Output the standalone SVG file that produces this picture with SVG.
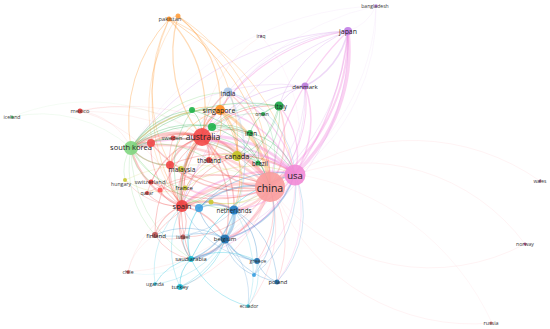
<svg xmlns="http://www.w3.org/2000/svg" width="550" height="329" viewBox="0 0 550 329">
<style>
text{font-family:"Open Sans","Liberation Sans",sans-serif;text-anchor:middle;dominant-baseline:central;fill:#222}
.sm{fill:#3a3a3a}
#edges path{fill:none;stroke-linecap:round}
.er{stroke:#f04848;stroke-opacity:.3}
.ech{stroke:#ff7f8a;stroke-opacity:.32}
.ep{stroke:#f07ad8;stroke-opacity:.34}
.epu{stroke:#c77ee6;stroke-opacity:.3}
.eo{stroke:#ff952a;stroke-opacity:.35}
.eg{stroke:#22b04c;stroke-opacity:.3}
.elg{stroke:#6fd06f;stroke-opacity:.32}
.ey{stroke:#c4c428;stroke-opacity:.3}
.eb{stroke:#2a84c8;stroke-opacity:.35}
.elb{stroke:#9ec4ea;stroke-opacity:.4}
.ec{stroke:#1cc0dc;stroke-opacity:.4}
.ef{stroke-opacity:.12}
circle{fill-opacity:.9}
</style>
<rect width="550" height="329" fill="#fff"/>
<g id="edges">
<path class="ech ef" stroke-width="0.8" d="M295 174A221 221 0 0 1 540 181"/>
<path class="ech ef" stroke-width="0.8" d="M295 175A200 200 0 0 1 525 244"/>
<path class="ech ef" stroke-width="0.8" d="M278 198A200 200 0 0 0 525 244"/>
<path class="ech ef" stroke-width="0.8" d="M278 198A212 212 0 0 0 492 323"/>
<path class="ech ef" stroke-width="0.6" d="M295 174A260 260 0 0 1 492 323"/>
<path class="er ef" stroke-width="0.7" d="M80 111A240 240 0 0 1 295 174"/>
<path class="er ef" stroke-width="0.7" d="M80 111A140 140 0 0 1 202 137"/>
<path class="er ef" stroke-width="0.7" d="M80 111A150 150 0 0 1 182 206"/>
<path class="er ef" stroke-width="0.7" d="M80 111A65 65 0 0 1 131 148"/>
<path class="er ef" stroke-width="0.6" d="M80 111A280 280 0 0 1 270 187"/>
<path class="elg ef" stroke-width="0.8" d="M12 117A135 135 0 0 1 131 148"/>
<path class="elg ef" stroke-width="0.6" d="M12 117A200 200 0 0 1 202 137"/>
<path class="er ef" stroke-width="0.6" d="M261 36A130 130 0 0 0 202 137"/>
<path class="ep ef" stroke-width="0.6" d="M261 36A150 150 0 0 1 295 174"/>
<path class="epu ef" stroke-width="0.6" d="M376 6A260 260 0 0 0 202 137"/>
<path class="epu ef" stroke-width="0.6" d="M376 6A300 300 0 0 0 131 148"/>
<path class="epu ef" stroke-width="0.6" d="M376 6A200 200 0 0 1 295 174"/>
<path class="epu ef" stroke-width="0.6" d="M376 6A45 45 0 0 1 348 31"/>
<path class="epu ef" stroke-width="0.6" d="M376 6A220 220 0 0 1 270 187"/>
<path class="er ef" stroke-width="0.6" d="M128 272A95 95 0 0 1 182 206"/>
<path class="er ef" stroke-width="0.6" d="M128 272A55 55 0 0 1 155 235"/>
<path class="er ef" stroke-width="0.6" d="M128 272A180 180 0 0 0 270 187"/>
<path class="ec ef" stroke-width="0.6" d="M128 272A70 70 0 0 0 191 259"/>
<path class="eo" stroke-width="1.2" d="M169 19A130 130 0 0 1 202 137"/>
<path class="eo" stroke-width="1" d="M169 19A150 150 0 0 0 131 148"/>
<path class="eo" stroke-width="0.8" d="M169 19A200 200 0 0 0 182 206"/>
<path class="eo" stroke-width="0.8" d="M169 19A160 160 0 0 0 170 165"/>
<path class="eo" stroke-width="1" d="M169 19A210 210 0 0 1 270 187"/>
<path class="eo" stroke-width="0.8" d="M169 19A220 220 0 0 1 295 174"/>
<path class="eo" stroke-width="1.2" d="M178 16A135 135 0 0 0 202 137"/>
<path class="eo" stroke-width="1.2" d="M178 16A110 110 0 0 1 220 110"/>
<path class="eo" stroke-width="0.8" d="M178 16A200 200 0 0 1 270 187"/>
<path class="eo" stroke-width="0.8" d="M178 16A160 160 0 0 1 237 156"/>
<path class="eo" stroke-width="0.6" d="M178 16A160 160 0 0 0 182 206"/>
<path class="eo" stroke-width="0.6" d="M178 16A20 20 0 0 0 169 19"/>
<path class="ep" stroke-width="3.5" d="M348 31A170 170 0 0 1 295 174"/>
<path class="ep" stroke-width="1.5" d="M348 31A300 300 0 0 1 295 174"/>
<path class="ep" stroke-width="2" d="M348 31A190 190 0 0 1 270 187"/>
<path class="ep" stroke-width="1.2" d="M348 31A260 260 0 0 0 270 187"/>
<path class="epu" stroke-width="1.5" d="M348 31A80 80 0 0 1 305 86"/>
<path class="ep" stroke-width="1.2" d="M348 31A200 200 0 0 0 202 137"/>
<path class="epu" stroke-width="0.8" d="M348 31A280 280 0 0 0 131 148"/>
<path class="epu" stroke-width="0.7" d="M348 31A270 270 0 0 0 182 206"/>
<path class="epu" stroke-width="0.8" d="M348 31A170 170 0 0 0 220 110"/>
<path class="epu" stroke-width="0.8" d="M348 31A120 120 0 0 0 279 106"/>
<path class="epu" stroke-width="0.6" d="M348 31A220 220 0 0 1 234 210"/>
<path class="epu" stroke-width="0.6" d="M348 31A220 220 0 0 1 225 239"/>
<path class="epu" stroke-width="0.6" d="M348 31A160 160 0 0 0 228 92"/>
<path class="epu" stroke-width="1" d="M305 86A40 40 0 0 0 279 106"/>
<path class="epu" stroke-width="1" d="M305 86A120 120 0 0 0 202 137"/>
<path class="epu" stroke-width="0.7" d="M305 86A170 170 0 0 0 182 206"/>
<path class="epu" stroke-width="0.6" d="M305 86A200 200 0 0 0 131 148"/>
<path class="epu" stroke-width="0.6" d="M305 86A140 140 0 0 1 234 210"/>
<path class="epu" stroke-width="0.6" d="M305 86A170 170 0 0 1 225 239"/>
<path class="ep" stroke-width="1.5" d="M305 86A100 100 0 0 1 295 174"/>
<path class="ep" stroke-width="1" d="M305 86A115 115 0 0 1 270 187"/>
<path class="er" stroke-width="3" d="M202 137A80 80 0 0 0 131 148"/>
<path class="er" stroke-width="3" d="M202 137A80 80 0 0 0 182 206"/>
<path class="ech" stroke-width="4.5" d="M202 137A95 95 0 0 1 270 187"/>
<path class="ech" stroke-width="2" d="M202 137A160 160 0 0 0 270 187"/>
<path class="ep" stroke-width="3" d="M202 137A110 110 0 0 1 295 174"/>
<path class="er" stroke-width="2" d="M202 137A40 40 0 0 1 220 110"/>
<path class="er" stroke-width="2" d="M202 137A50 50 0 0 0 170 165"/>
<path class="er" stroke-width="1.5" d="M202 137A35 35 0 0 0 173 138"/>
<path class="er" stroke-width="2" d="M202 137A60 60 0 0 0 151 143"/>
<path class="er" stroke-width="1.5" d="M202 137A30 30 0 0 1 209 160"/>
<path class="er" stroke-width="2" d="M202 137A45 45 0 0 1 237 156"/>
<path class="er" stroke-width="1.5" d="M202 137A90 90 0 0 1 234 210"/>
<path class="er" stroke-width="1.2" d="M202 137A60 60 0 0 1 228 92"/>
<path class="er" stroke-width="1" d="M202 137A55 55 0 0 1 250 133"/>
<path class="er" stroke-width="1" d="M202 137A95 95 0 0 1 279 106"/>
<path class="er" stroke-width="1" d="M202 137A80 80 0 0 0 151 182"/>
<path class="er" stroke-width="1" d="M202 137A120 120 0 0 0 155 235"/>
<path class="er" stroke-width="1" d="M202 137A135 135 0 0 0 191 259"/>
<path class="er" stroke-width="1.2" d="M202 137A115 115 0 0 1 225 239"/>
<path class="er" stroke-width="1" d="M202 137A60 60 0 0 0 185 188"/>
<path class="er" stroke-width="0.8" d="M202 137A85 85 0 0 0 147 193"/>
<path class="er" stroke-width="0.8" d="M202 137A100 100 0 0 0 183 237"/>
<path class="er" stroke-width="2" d="M182 206A60 60 0 0 1 234 210"/>
<path class="er" stroke-width="2" d="M182 206A20 20 0 0 1 199 208"/>
<path class="er" stroke-width="1.5" d="M182 206A60 60 0 0 1 225 239"/>
<path class="er" stroke-width="1.2" d="M182 206A45 45 0 0 0 155 235"/>
<path class="er" stroke-width="1" d="M182 206A35 35 0 0 1 183 237"/>
<path class="er" stroke-width="1" d="M182 206A45 45 0 0 0 151 182"/>
<path class="er" stroke-width="1" d="M182 206A40 40 0 0 1 147 193"/>
<path class="er" stroke-width="1" d="M182 206A22 22 0 0 1 185 188"/>
<path class="er" stroke-width="1.5" d="M182 206A48 48 0 0 1 170 165"/>
<path class="er" stroke-width="1.2" d="M182 206A60 60 0 0 0 191 259"/>
<path class="ech" stroke-width="3" d="M182 206A100 100 0 0 1 270 187"/>
<path class="ep" stroke-width="2" d="M182 206A130 130 0 0 1 295 174"/>
<path class="er" stroke-width="2" d="M182 206A85 85 0 0 1 131 148"/>
<path class="er" stroke-width="1" d="M182 206A60 60 0 0 1 209 160"/>
<path class="er" stroke-width="1" d="M182 206A80 80 0 0 1 237 156"/>
<path class="er" stroke-width="0.6" d="M182 206A70 70 0 0 1 125 180"/>
<path class="er" stroke-width="1" d="M182 206A30 30 0 0 1 160 190"/>
<path class="er" stroke-width="1.5" d="M151 143A25 25 0 0 0 131 148"/>
<path class="er" stroke-width="1.2" d="M151 143A130 130 0 0 0 270 187"/>
<path class="er" stroke-width="1" d="M151 143A70 70 0 0 0 182 206"/>
<path class="er" stroke-width="1.5" d="M170 165A110 110 0 0 0 270 187"/>
<path class="er" stroke-width="1.2" d="M170 165A50 50 0 0 1 131 148"/>
<path class="er" stroke-width="1.2" d="M170 165A135 135 0 0 1 295 174"/>
<path class="er" stroke-width="1" d="M173 138A120 120 0 0 1 270 187"/>
<path class="er" stroke-width="0.8" d="M173 138A80 80 0 0 0 182 206"/>
<path class="er" stroke-width="0.8" d="M155 235A135 135 0 0 1 270 187"/>
<path class="er" stroke-width="0.6" d="M155 235A35 35 0 0 0 183 237"/>
<path class="er" stroke-width="0.8" d="M155 235A50 50 0 0 0 191 259"/>
<path class="er" stroke-width="1.2" d="M209 160A75 75 0 0 0 270 187"/>
<path class="er" stroke-width="1" d="M209 160A95 95 0 0 1 295 174"/>
<path class="er" stroke-width="1" d="M151 182A130 130 0 0 0 270 187"/>
<path class="er" stroke-width="0.8" d="M183 237A100 100 0 0 0 270 187"/>
<path class="er" stroke-width="0.8" d="M160 190A120 120 0 0 1 270 187"/>
<path class="er" stroke-width="0.8" d="M147 193A130 130 0 0 1 270 187"/>
<path class="ech" stroke-width="5" d="M270 187A32 32 0 0 1 295 174"/>
<path class="eo" stroke-width="3" d="M220 110A100 100 0 0 1 270 187"/>
<path class="eo" stroke-width="2" d="M220 110A55 55 0 0 1 237 156"/>
<path class="ech" stroke-width="3" d="M270 187A50 50 0 0 0 237 156"/>
<path class="ech" stroke-width="2.5" d="M270 187A50 50 0 0 1 234 210"/>
<path class="ech" stroke-width="2" d="M270 187A75 75 0 0 1 225 239"/>
<path class="ech" stroke-width="1.5" d="M270 187A90 90 0 0 0 279 106"/>
<path class="ech" stroke-width="1.2" d="M270 187A65 65 0 0 0 250 133"/>
<path class="ech" stroke-width="1.5" d="M270 187A115 115 0 0 0 228 92"/>
<path class="ech" stroke-width="1" d="M270 187A30 30 0 0 0 258 163"/>
<path class="ech" stroke-width="1.5" d="M270 187A120 120 0 0 1 191 259"/>
<path class="ech" stroke-width="1" d="M270 187A85 85 0 0 1 257 261"/>
<path class="ech" stroke-width="0.8" d="M270 187A105 105 0 0 1 277 282"/>
<path class="ech" stroke-width="1.2" d="M270 187A95 95 0 0 1 185 188"/>
<path class="ech" stroke-width="2.5" d="M270 187A160 160 0 0 0 131 148"/>
<path class="ech" stroke-width="0.6" d="M270 187A150 150 0 0 1 180 287"/>
<path class="ech" stroke-width="0.6" d="M270 187A130 130 0 0 1 248 306"/>
<path class="ep" stroke-width="2" d="M295 174A180 180 0 0 0 131 148"/>
<path class="ep" stroke-width="1.5" d="M295 174A80 80 0 0 1 234 210"/>
<path class="ep" stroke-width="2" d="M295 174A65 65 0 0 0 237 156"/>
<path class="ep" stroke-width="1.2" d="M295 174A120 120 0 0 0 228 92"/>
<path class="ep" stroke-width="1.5" d="M295 174A110 110 0 0 0 220 110"/>
<path class="ep" stroke-width="1.2" d="M295 174A75 75 0 0 0 279 106"/>
<path class="ep" stroke-width="1" d="M295 174A105 105 0 0 1 225 239"/>
<path class="ep" stroke-width="0.8" d="M295 174A155 155 0 0 1 191 259"/>
<path class="ep" stroke-width="0.6" d="M295 174A100 100 0 0 1 257 261"/>
<path class="ep" stroke-width="0.6" d="M295 174A115 115 0 0 1 277 282"/>
<path class="ep" stroke-width="0.8" d="M295 174A45 45 0 0 0 258 163"/>
<path class="ep" stroke-width="0.8" d="M295 174A115 115 0 0 1 185 188"/>
<path class="eo" stroke-width="1" d="M220 110A25 25 0 0 0 228 92"/>
<path class="eo" stroke-width="1" d="M220 110A35 35 0 0 0 192 110"/>
<path class="eo" stroke-width="1.2" d="M220 110A105 105 0 0 0 131 148"/>
<path class="eo" stroke-width="1" d="M220 110A70 70 0 0 0 170 165"/>
<path class="eo" stroke-width="1" d="M220 110A110 110 0 0 0 182 206"/>
<path class="eo" stroke-width="1" d="M220 110A110 110 0 0 1 234 210"/>
<path class="eo" stroke-width="1" d="M220 110A60 60 0 0 1 209 160"/>
<path class="eg" stroke-width="1" d="M279 106A40 40 0 0 0 250 133"/>
<path class="eg" stroke-width="0.6" d="M279 106A25 25 0 0 0 263 114"/>
<path class="eg" stroke-width="0.8" d="M279 106A65 65 0 0 1 258 163"/>
<path class="eg" stroke-width="0.8" d="M279 106A75 75 0 0 0 212 127"/>
<path class="eg" stroke-width="1" d="M279 106A170 170 0 0 0 131 148"/>
<path class="eg" stroke-width="0.8" d="M279 106A150 150 0 0 1 182 206"/>
<path class="eg" stroke-width="0.8" d="M279 106A60 60 0 0 1 237 156"/>
<path class="eg" stroke-width="1" d="M250 133A130 130 0 0 0 131 148"/>
<path class="eg" stroke-width="1" d="M250 133A30 30 0 0 1 237 156"/>
<path class="eg" stroke-width="0.8" d="M250 133A35 35 0 0 1 258 163"/>
<path class="eg" stroke-width="0.8" d="M250 133A45 45 0 0 0 212 127"/>
<path class="eg" stroke-width="1" d="M250 133A60 60 0 0 1 295 174"/>
<path class="eg" stroke-width="1.2" d="M192 110A85 85 0 0 0 131 148"/>
<path class="eg" stroke-width="1" d="M192 110A35 35 0 0 1 202 137"/>
<path class="eg" stroke-width="0.8" d="M192 110A100 100 0 0 0 182 206"/>
<path class="eg" stroke-width="1" d="M192 110A110 110 0 0 1 270 187"/>
<path class="eg" stroke-width="1" d="M212 127A90 90 0 0 0 131 148"/>
<path class="eg" stroke-width="1" d="M212 127A85 85 0 0 1 270 187"/>
<path class="eg" stroke-width="0.8" d="M212 127A100 100 0 0 1 295 174"/>
<path class="eg" stroke-width="0.8" d="M212 127A85 85 0 0 0 182 206"/>
<path class="eg" stroke-width="0.6" d="M263 114A70 70 0 0 0 202 137"/>
<path class="eg" stroke-width="0.6" d="M263 114A85 85 0 0 1 270 187"/>
<path class="eg" stroke-width="0.8" d="M258 163A25 25 0 0 0 237 156"/>
<path class="eg" stroke-width="0.8" d="M258 163A65 65 0 0 0 202 137"/>
<path class="eg" stroke-width="0.6" d="M258 163A135 135 0 0 0 131 148"/>
<path class="elg" stroke-width="1.5" d="M131 148A50 50 0 0 0 170 165"/>
<path class="elg" stroke-width="1.5" d="M131 148A105 105 0 0 1 220 110"/>
<path class="elg" stroke-width="1.2" d="M131 148A115 115 0 0 1 237 156"/>
<path class="elg" stroke-width="1" d="M131 148A130 130 0 0 0 234 210"/>
<path class="elg" stroke-width="0.6" d="M131 148A40 40 0 0 0 125 180"/>
<path class="elg" stroke-width="1" d="M131 148A45 45 0 0 0 151 182"/>
<path class="elg" stroke-width="0.8" d="M131 148A120 120 0 0 1 228 92"/>
<path class="elg" stroke-width="1" d="M131 148A90 90 0 0 1 209 160"/>
<path class="elg" stroke-width="0.6" d="M131 148A100 100 0 0 0 155 235"/>
<path class="elg" stroke-width="0.6" d="M131 148A130 130 0 0 0 191 259"/>
<path class="elg" stroke-width="0.8" d="M131 148A70 70 0 0 0 185 188"/>
<path class="ey" stroke-width="1" d="M237 156A32 32 0 0 0 209 160"/>
<path class="ey" stroke-width="0.8" d="M237 156A70 70 0 0 0 185 188"/>
<path class="ey" stroke-width="1" d="M237 156A60 60 0 0 1 234 210"/>
<path class="ey" stroke-width="0.6" d="M125 180A65 65 0 0 0 185 188"/>
<path class="ey" stroke-width="0.5" d="M125 180A150 150 0 0 1 270 187"/>
<path class="ey" stroke-width="0.8" d="M185 188A115 115 0 0 1 295 174"/>
<path class="ey" stroke-width="1" d="M211 202A65 65 0 0 0 270 187"/>
<path class="ey" stroke-width="0.8" d="M211 202A35 35 0 0 0 182 206"/>
<path class="ey" stroke-width="0.6" d="M211 202A90 90 0 0 0 295 174"/>
<path class="eb" stroke-width="2.5" d="M234 210A35 35 0 0 1 225 239"/>
<path class="eb" stroke-width="1.2" d="M234 210A70 70 0 0 1 191 259"/>
<path class="eb" stroke-width="1" d="M234 210A60 60 0 0 1 257 261"/>
<path class="eb" stroke-width="1.5" d="M234 210A40 40 0 0 0 199 208"/>
<path class="eb" stroke-width="0.8" d="M234 210A85 85 0 0 1 277 282"/>
<path class="eb" stroke-width="0.6" d="M234 210A90 90 0 0 1 155 235"/>
<path class="eb" stroke-width="2" d="M225 239A45 45 0 0 1 191 259"/>
<path class="eb" stroke-width="1.2" d="M225 239A45 45 0 0 0 257 261"/>
<path class="eb" stroke-width="0.6" d="M225 239A80 80 0 0 1 248 306"/>
<path class="eb" stroke-width="0.8" d="M225 239A45 45 0 0 0 254 275"/>
<path class="eb" stroke-width="0.8" d="M225 239A70 70 0 0 0 277 282"/>
<path class="eb" stroke-width="1.5" d="M225 239A100 100 0 0 0 295 174"/>
<path class="eb" stroke-width="1" d="M225 239A45 45 0 0 1 199 208"/>
<path class="eb" stroke-width="0.8" d="M225 239A50 50 0 0 0 183 237"/>
<path class="eb" stroke-width="0.8" d="M225 239A75 75 0 0 0 155 235"/>
<path class="eb" stroke-width="0.8" d="M257 261A35 35 0 0 0 277 282"/>
<path class="eb" stroke-width="0.6" d="M257 261A20 20 0 0 1 254 275"/>
<path class="eb" stroke-width="0.6" d="M257 261A100 100 0 0 1 182 206"/>
<path class="eb" stroke-width="1.5" d="M199 208A80 80 0 0 1 270 187"/>
<path class="eb" stroke-width="1" d="M199 208A105 105 0 0 1 295 174"/>
<path class="eb" stroke-width="0.8" d="M254 275A95 95 0 0 0 270 187"/>
<path class="eb" stroke-width="0.6" d="M254 275A110 110 0 0 0 295 174"/>
<path class="eb" stroke-width="0.6" d="M277 282A100 100 0 0 0 295 174"/>
<path class="elb" stroke-width="0.8" d="M228 92A130 130 0 0 1 234 210"/>
<path class="elb" stroke-width="0.7" d="M228 92A130 130 0 0 0 182 206"/>
<path class="elb" stroke-width="0.6" d="M228 92A155 155 0 0 1 225 239"/>
<path class="elb" stroke-width="1" d="M228 92A90 90 0 0 1 295 174"/>
<path class="ec" stroke-width="1.2" d="M199 208A55 55 0 0 0 191 259"/>
<path class="ec" stroke-width="1" d="M191 259A35 35 0 0 0 180 287"/>
<path class="ec" stroke-width="0.8" d="M191 259A50 50 0 0 0 155 284"/>
<path class="ec" stroke-width="0.8" d="M191 259A85 85 0 0 0 248 306"/>
<path class="ec" stroke-width="1" d="M191 259A160 160 0 0 1 295 174"/>
<path class="ec" stroke-width="0.8" d="M191 259A30 30 0 0 1 183 237"/>
<path class="ec" stroke-width="0.8" d="M191 259A75 75 0 0 1 257 261"/>
<path class="ec" stroke-width="0.8" d="M180 287A70 70 0 0 0 225 239"/>
<path class="ec" stroke-width="0.6" d="M180 287A90 90 0 0 1 182 206"/>
<path class="ec" stroke-width="0.6" d="M180 287A100 100 0 0 0 234 210"/>
<path class="ec" stroke-width="0.5" d="M155 284A95 95 0 0 0 225 239"/>
<path class="ec" stroke-width="0.5" d="M155 284A90 90 0 0 1 182 206"/>
<path class="ec" stroke-width="0.5" d="M248 306A55 55 0 0 0 257 261"/>
<path class="ec" stroke-width="0.5" d="M248 306A110 110 0 0 0 234 210"/>
</g>
<g id="node-china"><circle cx="270" cy="187" r="15" fill="#fa9c9c"/><text x="270" y="188" font-size="10.5">china</text></g>
<g id="node-usa"><circle cx="295" cy="175" r="10.5" fill="#f28ad6"/><text x="295" y="175" font-size="9.5">usa</text></g>
<g id="node-australia"><circle cx="202" cy="137" r="9" fill="#f44848"/><text x="203" y="137" font-size="8.6">australia</text></g>
<g id="node-south-korea"><circle cx="131" cy="148" r="7" fill="#7fd67f"/><text x="131" y="147" font-size="7.5">south korea</text></g>
<g id="node-spain"><circle cx="182" cy="206" r="6" fill="#f04040"/><text x="182" y="206" font-size="7.5">spain</text></g>
<g id="node-singapore"><circle cx="220" cy="110" r="5" fill="#ff8c1e"/><text x="219" y="110" font-size="7.1">singapore</text></g>
<g id="node-canada"><circle cx="237" cy="156" r="5" fill="#c3c322"/><text x="237" y="156" font-size="7.3">canada</text></g>
<g id="node-netherlands"><circle cx="234" cy="210" r="4.5" fill="#1e7cc4"/><text x="234" y="210" font-size="6.2">netherlands</text></g>
<g id="node-belgium"><circle cx="225" cy="239" r="4.5" fill="#1a70b0"/><text x="225" y="239" font-size="6">belgium</text></g>
<g id="node-italy"><circle cx="279" cy="106" r="4.5" fill="#16a845"/><text x="281" y="106" font-size="6.2">italy</text></g>
<g id="node-india"><circle cx="228" cy="92" r="4.5" fill="#a8c6ea"/><text x="228" y="93" font-size="6.5">india</text></g>
<g id="node-japan"><circle cx="348" cy="31" r="4" fill="#c27ee6"/><text x="348" y="31" font-size="6.9">japan</text></g>
<g id="node-malaysia"><circle cx="170" cy="165" r="4" fill="#f04444"/><circle cx="181" cy="169" r="3" fill="#c8c830"/><text x="182" y="169" font-size="6.6">malaysia</text></g>
<g id="node-r1"><circle cx="151" cy="143" r="4" fill="#f04848"/></g>
<g id="node-g1"><circle cx="192" cy="110" r="3" fill="#1db34a"/></g>
<g id="node-g2"><circle cx="212" cy="127" r="4" fill="#1db34a"/></g>
<g id="node-denmark"><circle cx="305" cy="86" r="3.5" fill="#b87ad8"/><text x="305" y="86" font-size="6.1">denmark</text></g>
<g id="node-iran"><circle cx="250" cy="133" r="3" fill="#16a845"/><text x="251" y="133" font-size="6.7">iran</text></g>
<g id="node-oman"><circle cx="263" cy="114" r="2" fill="#16a845"/><text class="sm" x="262" y="114" font-size="5.1">oman</text></g>
<g id="node-thailand"><circle cx="209" cy="160" r="3" fill="#e83838"/><text x="209" y="160" font-size="6.2">thailand</text></g>
<g id="node-sweden"><circle cx="173" cy="138" r="2.5" fill="#e03838"/><text class="sm" x="172" y="138" font-size="5.8">sweden</text></g>
<g id="node-brazil"><circle cx="258" cy="163" r="2.5" fill="#16a845"/><text x="260" y="163" font-size="6.2">brazil</text></g>
<g id="node-hungary"><circle cx="125" cy="180" r="2" fill="#c8c830"/><text class="sm" x="121" y="184" font-size="5.2">hungary</text></g>
<g id="node-switzerland"><circle cx="151" cy="182" r="2.5" fill="#e03030"/><text class="sm" x="150" y="182" font-size="5.8">switzerland</text></g>
<g id="node-r2"><circle cx="160" cy="190" r="2.5" fill="#ff5050"/></g>
<g id="node-qatar"><circle cx="147" cy="193" r="2" fill="#e03030"/><text class="sm" x="147" y="193" font-size="5.2">qatar</text></g>
<g id="node-france"><circle cx="185" cy="188" r="2.5" fill="#c8c830"/><text x="184" y="188" font-size="6">france</text></g>
<g id="node-b1"><circle cx="199" cy="208" r="4" fill="#3aa0e0"/></g>
<g id="node-y2"><circle cx="211" cy="202" r="2.5" fill="#c8c830"/></g>
<g id="node-finland"><circle cx="155" cy="235" r="3" fill="#b85050"/><text x="156" y="235" font-size="6.1">finland</text></g>
<g id="node-israel"><circle cx="183" cy="237" r="2.5" fill="#b85050"/><text class="sm" x="183" y="237" font-size="5.6">israel</text></g>
<g id="node-saudiarabia"><circle cx="191" cy="259" r="3" fill="#17bcd6"/><text x="191" y="259" font-size="5.8">saudiarabia</text></g>
<g id="node-greece"><circle cx="257" cy="261" r="3" fill="#1a70b0"/><text class="sm" x="258" y="261" font-size="5.4">greece</text></g>
<g id="node-b2"><circle cx="254" cy="275" r="2" fill="#3aa0e0"/></g>
<g id="node-poland"><circle cx="277" cy="282" r="2.5" fill="#1a70b0"/><text x="278" y="282" font-size="5.8">poland</text></g>
<g id="node-chile"><circle cx="128" cy="272" r="1.8" fill="#d04040"/><text class="sm" x="128" y="272" font-size="5.1">chile</text></g>
<g id="node-uganda"><circle cx="155" cy="284" r="1.8" fill="#17bcd6"/><text class="sm" x="155" y="284" font-size="5.1">uganda</text></g>
<g id="node-turkey"><circle cx="180" cy="287" r="3" fill="#17bcd6"/><text x="180" y="287" font-size="5.7">turkey</text></g>
<g id="node-ecuador"><circle cx="248" cy="306" r="1.8" fill="#17bcd6"/><text class="sm" x="249" y="306" font-size="4.9">ecuador</text></g>
<g id="node-pakistan"><circle cx="169" cy="19" r="2.5" fill="#ff8c1e"/><circle cx="178" cy="16" r="2.5" fill="#ffa040"/><text class="sm" x="170" y="19" font-size="5.8">pakistan</text></g>
<g id="node-mexico"><circle cx="80" cy="111" r="2.5" fill="#e03030"/><text class="sm" x="80" y="111" font-size="5.7">mexico</text></g>
<g id="node-iceland"><circle cx="12" cy="117" r="1.5" fill="#40b060"/><text class="sm" x="12" y="117" font-size="5.1">iceland</text></g>
<g id="node-iraq"><circle cx="261" cy="36" r="1.2" fill="#c080d0"/><text class="sm" x="261" y="36" font-size="4.9">iraq</text></g>
<g id="node-bangladesh"><circle cx="376" cy="6" r="1.8" fill="#b87ad8"/><text class="sm" x="375" y="6" font-size="5.1">bangladesh</text></g>
<g id="node-wales"><circle cx="540" cy="181" r="1.5" fill="#a0508a"/><text class="sm" x="540" y="181" font-size="4.9">wales</text></g>
<g id="node-norway"><circle cx="525" cy="244" r="1.5" fill="#b04080"/><text class="sm" x="525" y="244" font-size="5.2">norway</text></g>
<g id="node-russia"><circle cx="491" cy="323" r="1.5" fill="#d06060"/><text class="sm" x="491" y="323" font-size="5.4">russia</text></g>
</svg>
